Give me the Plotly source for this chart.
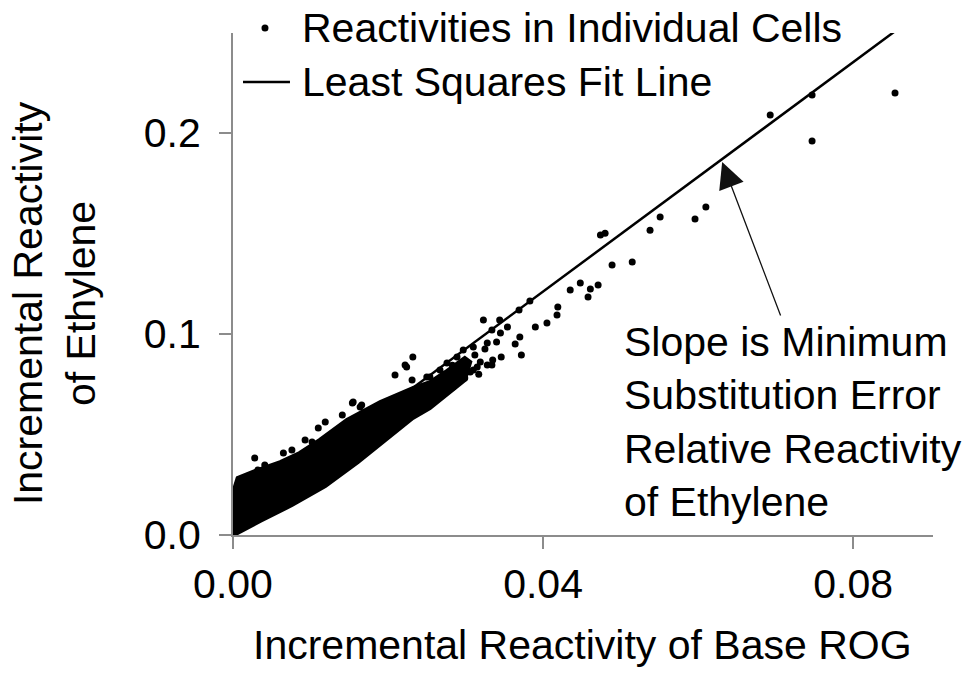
import plotly.graph_objects as go

# ---------------- data ----------------
# outline of the solidly filled (overplotted) core of the point cloud
cloud_x = [0.0, 0.0, 0.0006, 0.0028, 0.0061, 0.0086, 0.0112, 0.0147, 0.0190, 0.0232, 0.0254,
           0.0274, 0.0299, 0.0306, 0.0299, 0.0274,
           0.0254, 0.0232, 0.0196, 0.0161, 0.0119, 0.0076, 0.0035, 0.0001]
cloud_y = [0.0, 0.0209, 0.0284, 0.0318, 0.0363, 0.0408, 0.0473, 0.0572, 0.0662, 0.0731, 0.0761,
           0.0811, 0.0881, 0.0861, 0.0771, 0.0697,
           0.0632, 0.0582, 0.0473, 0.0363, 0.0244, 0.0149, 0.0070, 0.0]

# individually visible cells
cell_x = [0.0028, 0.0041, 0.0032, 0.0065, 0.0076, 0.0093, 0.0102, 0.0110, 0.0119, 0.0141,
          0.0154, 0.0166, 0.0190, 0.0155, 0.0164,
          0.0232, 0.0222, 0.0224, 0.0209, 0.0231, 0.0250,
          0.0241, 0.0254, 0.0263, 0.0274, 0.0284, 0.0299, 0.0310, 0.0328, 0.0335,
          0.0254, 0.0267, 0.0276, 0.0289, 0.0297, 0.0310, 0.0328, 0.0334, 0.0323,
          0.0344, 0.0345, 0.0354, 0.0369, 0.0383,
          0.0315, 0.0306, 0.0297, 0.0334, 0.0346, 0.0372, 0.0364, 0.0370, 0.0390, 0.0405,
          0.0418, 0.0419, 0.0458, 0.0461, 0.0471, 0.0448, 0.0435,
          0.0489, 0.0515, 0.0474, 0.0480, 0.0538, 0.0551, 0.0596, 0.0610,
          0.0693, 0.0747, 0.0747, 0.0854,
          0.0312, 0.0319, 0.0325, 0.0340, 0.0317, 0.0290, 0.0283]
cell_y = [0.0383, 0.0348, 0.0323, 0.0408, 0.0423, 0.0473, 0.0463, 0.0532, 0.0562, 0.0597,
          0.0657, 0.0647, 0.0647, 0.0662, 0.0637,
          0.0886, 0.0846, 0.0836, 0.0796, 0.0771, 0.0786,
          0.0637, 0.0672, 0.0706, 0.0721, 0.0736, 0.0781, 0.0821, 0.0846, 0.0871,
          0.0786, 0.0821, 0.0856, 0.0886, 0.0920, 0.0935, 0.0955, 0.1020, 0.1070,
          0.1070, 0.1005, 0.1035, 0.1119, 0.1164,
          0.0836, 0.0811, 0.0786, 0.0846, 0.0886, 0.0896, 0.0950, 0.0985, 0.1035, 0.1055,
          0.1095, 0.1134, 0.1184, 0.1224, 0.1244, 0.1254, 0.1219,
          0.1343, 0.1358, 0.1493, 0.1502, 0.1517, 0.1582, 0.1572, 0.1632,
          0.2090, 0.2189, 0.1960, 0.2199,
          0.0896, 0.0861, 0.0925, 0.0960, 0.0800, 0.0760, 0.0845]

# least squares fit line end points
fit_x = [0.0, 0.0854]
fit_y = [0.007, 0.2507]

x_ticks = [0.0, 0.04, 0.08]
x_ticklabels = ["0.00", "0.04", "0.08"]
y_ticks = [0.0, 0.1, 0.2]
y_ticklabels = ["0.0", "0.1", "0.2"]

# ---------------- figure ----------------
FONT = "Liberation Sans, Arial, sans-serif"
FS = 41
AXC = "#8c8c8c"

fig = go.Figure()
fig.add_trace(go.Scatter(x=cloud_x, y=cloud_y, mode="lines", fill="toself",
                         fillcolor="black", line=dict(color="black", width=4),
                         hoverinfo="skip", showlegend=False))
fig.add_trace(go.Scatter(x=cell_x, y=cell_y, mode="markers",
                         marker=dict(color="black", size=7, line=dict(width=0)),
                         showlegend=False))
fig.add_trace(go.Scatter(x=fit_x, y=fit_y, mode="lines",
                         line=dict(color="black", width=2.5), showlegend=False))

fig.update_layout(
    width=963, height=679,
    margin=dict(l=233, r=30, t=33, b=144),
    plot_bgcolor="white", paper_bgcolor="white",
    font=dict(family=FONT, size=FS, color="black"),
    showlegend=False,
)
fig.update_xaxes(range=[0, 0.0903], tickvals=x_ticks, ticktext=x_ticklabels,
                 showgrid=False, zeroline=False, showline=True, linecolor=AXC, linewidth=2,
                 ticks="outside", ticklen=12, tickwidth=2, tickcolor=AXC,
                 tickfont=dict(family=FONT, size=FS, color="black"))
fig.update_yaxes(range=[0, 0.2498], tickvals=y_ticks, ticktext=y_ticklabels,
                 showgrid=False, zeroline=False, showline=True, linecolor=AXC, linewidth=2,
                 ticks="outside", ticklen=12, tickwidth=2, tickcolor=AXC,
                 ticklabelstandoff=10,
                 tickfont=dict(family=FONT, size=FS, color="black"))

# legend drawn by hand
fig.add_shape(type="line", xref="paper", yref="paper", x0=0.0143, x1=0.0814,
              y0=0.9024, y1=0.9024, line=dict(color="black", width=2.5))
fig.add_shape(type="circle", xref="paper", yref="paper", xsizemode="pixel", ysizemode="pixel",
              xanchor=0.0457, yanchor=1.010, x0=-3.5, x1=3.5, y0=-3.5, y1=3.5,
              fillcolor="black", line=dict(width=0))
fig.add_annotation(xref="paper", yref="paper", x=0.095, y=1.010, xanchor="left", yanchor="middle",
                   text="Reactivities in Individual Cells", showarrow=False)
fig.add_annotation(xref="paper", yref="paper", x=0.095, y=0.9024, xanchor="left", yanchor="middle",
                   text="Least Squares Fit Line", showarrow=False)

# explanatory note and arrow
fig.add_annotation(xref="paper", yref="paper", x=0.556, y=0.226, xanchor="left", yanchor="middle",
                   align="left", showarrow=False,
                   text="Slope is Minimum<br>Substitution Error<br>Relative Reactivity<br>of Ethylene")
fig.add_annotation(xref="x", yref="y", x=0.0631, y=0.1856, ax=59, ay=155, text="",
                   showarrow=True, arrowhead=2, arrowsize=4, arrowwidth=1.3,
                   arrowcolor="#111111", standoff=0)

# axis titles
fig.add_annotation(xref="paper", yref="paper", x=0.4986, y=-0.219, xanchor="center",
                   yanchor="middle", showarrow=False,
                   text="Incremental Reactivity of Base ROG")
fig.add_annotation(xref="paper", yref="paper", x=-0.2557, y=0.462, xanchor="center",
                   yanchor="middle", showarrow=False, textangle=-90,
                   text="Incremental Reactivity<br>of Ethylene")

fig.write_html("out.html")
